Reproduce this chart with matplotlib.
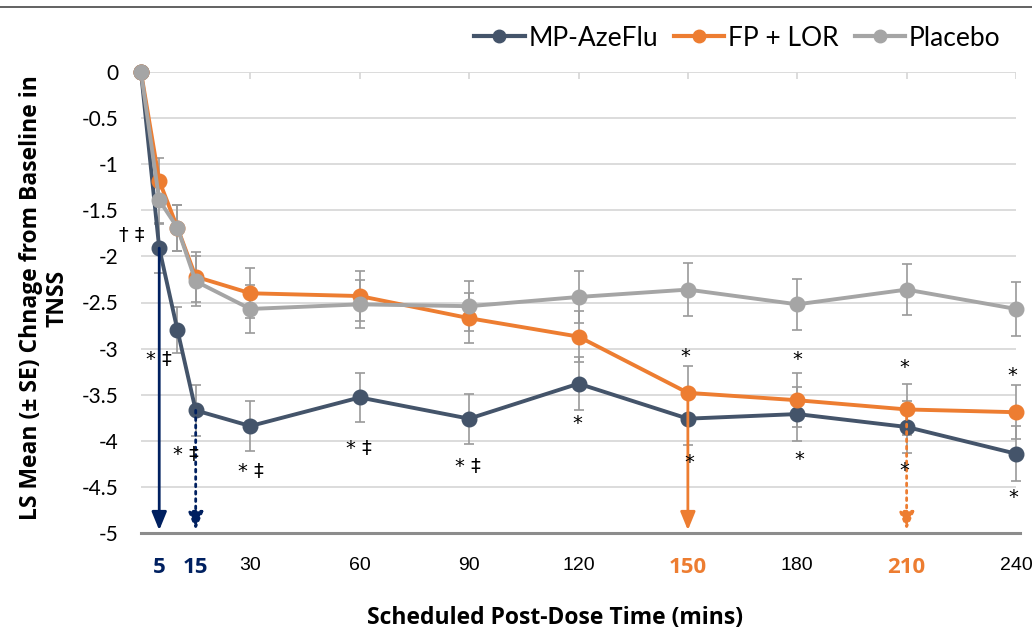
import matplotlib.pyplot as plt
from matplotlib.lines import Line2D

# Scheduled post-dose times (mins)
times = [0, 5, 10, 15, 30, 60, 90, 120, 150, 180, 210, 240]

# LS mean change from baseline in TNSS
mp_azeflu = [0, -1.91, -2.80, -3.67, -3.84, -3.53, -3.76, -3.38, -3.76, -3.71, -3.85, -4.14]
fp_lor = [0, -1.18, -1.69, -2.22, -2.40, -2.43, -2.67, -2.87, -3.48, -3.56, -3.66, -3.69]
placebo = [0, -1.39, -1.69, -2.27, -2.57, -2.52, -2.54, -2.44, -2.36, -2.52, -2.36, -2.57]

# standard errors
mp_se = [0, 0.27, 0.25, 0.28, 0.27, 0.27, 0.27, 0.29, 0.29, 0.29, 0.28, 0.30]
fp_se = [0, 0.25, 0.25, 0.27, 0.27, 0.27, 0.27, 0.28, 0.29, 0.29, 0.28, 0.29]
pl_se = [0, 0.26, 0.25, 0.27, 0.26, 0.26, 0.27, 0.28, 0.29, 0.28, 0.28, 0.29]

tick_times = [5, 15, 30, 60, 90, 120, 150, 180, 210, 240]
y_ticks = [0, -0.5, -1, -1.5, -2, -2.5, -3, -3.5, -4, -4.5, -5]

# onset arrows: (time, series name, linestyle)
onset_arrows = [(5, 'MP-AzeFlu', '-'), (15, 'MP-AzeFlu', ':'),
                (150, 'FP + LOR', '-'), (210, 'FP + LOR', ':')]

# significance marks (time, value, text)
sig_marks = [(-2.5, -1.77, '† ‡'), (4.9, -3.12, '* ‡'), (12.3, -4.15, '* ‡'),
             (30.2, -4.33, '* ‡'), (59.8, -4.08, '* ‡'), (89.7, -4.28, '* ‡'),
             (119.6, -3.81, '*'), (149.2, -3.09, '*'), (150.3, -4.23, '*'),
             (179.9, -3.12, '*'), (180.5, -4.20, '*'), (209.5, -3.21, '*'),
             (209.5, -4.32, '*'), (238.9, -3.29, '*'), (239.2, -4.61, '*')]

NAVY_LINE = '#44546A'
ORANGE = '#ED7D31'
GREY = '#A5A5A5'
DARK_BLUE = '#002060'

series = {
    'MP-AzeFlu': (mp_azeflu, mp_se, NAVY_LINE),
    'FP + LOR': (fp_lor, fp_se, ORANGE),
    'Placebo': (placebo, pl_se, GREY),
}

fig = plt.figure(figsize=(10.32, 6.34), dpi=100)
ax = fig.add_axes([141 / 1032, 1 - 533 / 634, 875 / 1032, 461 / 634])

# gridlines
for yv in y_ticks[:-1]:
    ax.axhline(yv, color='#D9D9D9', lw=1.3, zorder=0)
ax.axhline(-5, xmin=0, xmax=1.005, color='#8C8C8C', lw=2.2, zorder=1, clip_on=False)

# small ticks hanging from the zero line
ax.vlines(tick_times[2:], 0, -0.08, color='#D9D9D9', lw=1.3, zorder=0)

# error bars first, then lines
for name, (vals, se, col) in series.items():
    ax.errorbar(times, vals, yerr=se, fmt='none', ecolor='#9A9A9A', elinewidth=1.2,
                capsize=3.5, capthick=1.2, zorder=2, clip_on=False)
for name, (vals, se, col) in series.items():
    ax.plot(times, vals, color=col, lw=2.8, marker='o', ms=10.5, zorder=3, clip_on=False)

# arrows marking onset of action
for t, name, ls in onset_arrows:
    vals, se, col = series[name]
    c = DARK_BLUE if name == 'MP-AzeFlu' else ORANGE
    v = vals[times.index(t)]
    ax.annotate('', xy=(t, -4.97), xytext=(t, v),
                arrowprops=dict(arrowstyle='-|>,head_width=0.45,head_length=1.1',
                                color=c, lw=2.0, linestyle=ls, shrinkA=0, shrinkB=0),
                zorder=4)

for x, y, s in sig_marks:
    ax.text(x, y, s, ha='center', va='center', fontsize=14, color='black',
            family='DejaVu Sans', zorder=5)

ax.set_xlim(0, 240)
ax.set_ylim(-5, 0)
for sp in ax.spines.values():
    sp.set_visible(False)

ax.set_yticks(y_ticks)
ax.set_yticklabels([f'{v:g}' for v in y_ticks], family='Lato', fontsize=15)
ax.tick_params(axis='y', length=0, pad=16)

ax.set_xticks(tick_times)
labels = ax.set_xticklabels([str(t) for t in tick_times])
ax.tick_params(axis='x', length=0, pad=17)
for t, lab in zip(tick_times, labels):
    if t in (5, 15):
        lab.set(color=DARK_BLUE, fontweight='bold', family='Open Sans', fontsize=16)
    elif t in (150, 210):
        lab.set(color=ORANGE, fontweight='bold', family='Open Sans', fontsize=16)
    else:
        lab.set(family='Liberation Sans', fontsize=14)

fig.text(555 / 1032, 1 - 618 / 634, 'Scheduled Post-Dose Time (mins)', ha='center', va='center',
         family='Open Sans', fontweight='bold', fontsize=16.5)
fig.text(44 / 1032, 1 - 298 / 634, 'LS Mean (± SE) Chnage from Baseline in\nTNSS', ha='center',
         va='center', rotation=90, family='Open Sans', fontweight='bold', fontsize=16.5,
         linespacing=1.15)

# legend across the top
handles = [Line2D([], [], color=col, lw=3, marker='o', ms=9) for _, (_, _, col) in series.items()]
fig.legend(handles, list(series.keys()), loc='center right', bbox_to_anchor=(1024 / 1032, 1 - 38 / 634),
           ncol=3, frameon=False, prop={'family': 'Lato', 'size': 19}, handlelength=1.9,
           handletextpad=0.15, columnspacing=0.6)

# rule across the very top
fig.add_artist(Line2D([0, 1], [1 - 7 / 634, 1 - 7 / 634], color='#555555', lw=1.3))

fig.savefig('out.png', dpi=100, facecolor='white')
